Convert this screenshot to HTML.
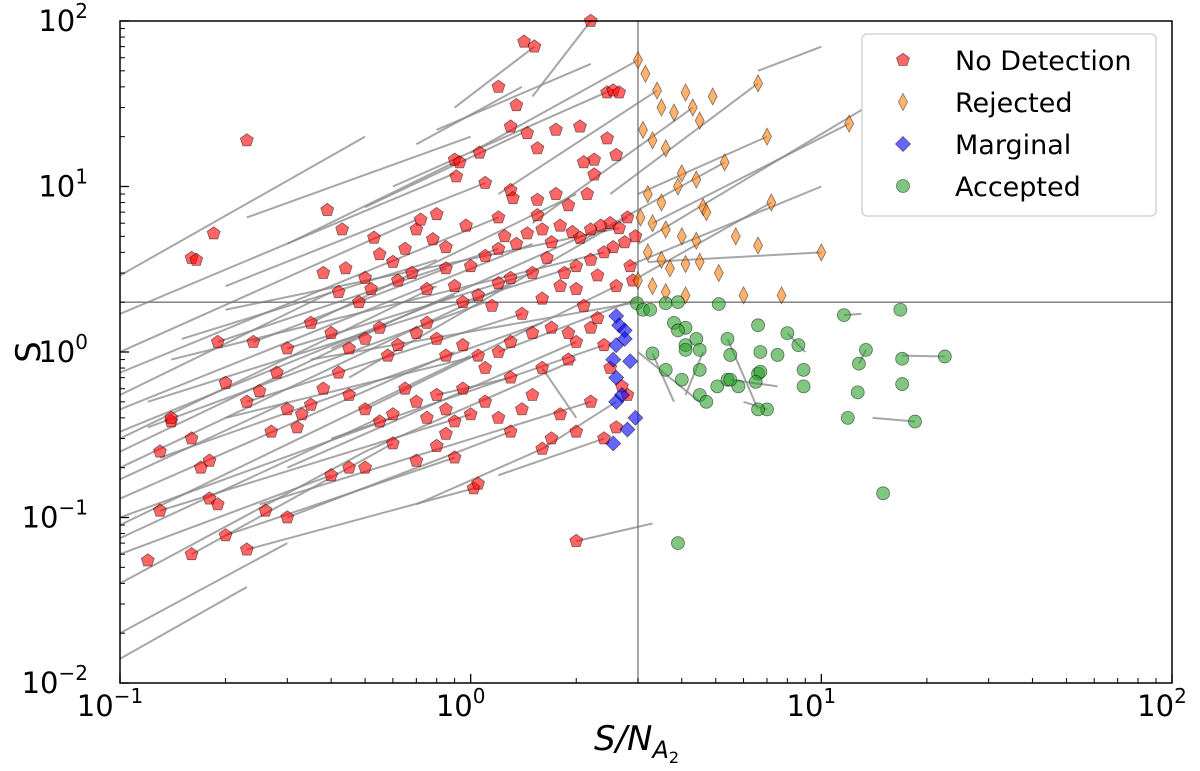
<!DOCTYPE html>
<html><head><meta charset="utf-8">
<style>
html,body{margin:0;padding:0;background:#fff;}
svg{display:block;font-family:"DejaVu Sans","Liberation Sans",sans-serif;}
</style></head>
<body>
<svg id="chart" width="1200" height="771" viewBox="0 0 1200 771">
  <g id="lines"></g>
  <g id="refs"></g>
  <g id="marks"></g>
  <g id="axes"></g>
  <g id="legend"></g>
</svg>
<script>
const xTicks=[0.1,1,10,100];
const xTickExp=["−1","0","1","2"];
const yTicks=[0.01,0.1,1,10,100];
const yTickExp=["−2","−1","0","1","2"];
const thresholdX=3;
const thresholdY=2;

const noDetection=[[0.23,19],[0.185,5.2],[0.16,3.7],[0.165,3.6],[0.39,7.2],[0.43,5.5],[0.53,4.9],[1.2,40],[1.42,75],[1.52,70],[2.2,100],[2.45,37],[2.55,38],[2.65,37],[1.35,31],[1.3,23],[1.75,22],[2.05,23],[1.45,21],[1.55,17],[0.9,14.5],[0.93,14],[1.06,16],[0.91,11.5],[1.1,10.5],[1.3,9.5],[1.32,8.5],[2.1,14],[2.25,14.5],[2.6,15.5],[2.45,19.5],[2.25,11.8],[2.15,9],[1.9,7.7],[1.75,9],[1.55,8.3],[1.55,6.7],[1.2,6.5],[1.25,5.0],[0.97,5.8],[0.85,4.3],[0.78,4.8],[0.72,6.3],[0.8,6.8],[0.7,5.5],[0.65,4.2],[0.6,3.5],[0.55,3.9],[0.5,2.8],[0.52,2.4],[0.48,2.0],[0.42,2.3],[0.38,3.0],[0.44,3.2],[0.62,2.7],[0.68,3.0],[0.75,2.4],[0.85,3.2],[0.9,2.5],[1.0,3.3],[1.1,3.8],[1.2,4.2],[1.35,4.5],[1.45,5.2],[1.6,5.5],[1.7,4.6],[1.8,5.8],[1.95,5.3],[2.05,4.9],[2.2,5.5],[2.35,5.8],[2.5,6.0],[2.65,5.6],[2.8,6.5],[2.95,5.0],[2.75,4.6],[2.55,4.3],[2.4,4.0],[2.2,3.6],[2.0,3.3],[1.85,3.0],[1.65,3.7],[1.5,3.0],[1.3,2.8],[1.2,2.6],[1.05,2.2],[0.95,2.0],[1.15,1.9],[1.4,1.7],[1.6,2.1],[1.8,2.5],[2.0,2.4],[2.1,1.9],[2.3,1.6],[2.6,2.5],[2.85,3.3],[2.3,2.9],[2.9,2.7],[1.7,1.4],[1.9,1.3],[2.0,1.15],[2.2,1.4],[2.4,1.1],[1.5,1.3],[1.3,1.15],[1.2,1.0],[1.05,0.95],[0.95,1.1],[0.85,0.95],[0.8,1.2],[0.75,1.5],[0.7,1.3],[0.62,1.1],[0.58,0.95],[0.55,1.4],[0.5,1.2],[0.45,1.05],[0.4,1.3],[0.35,1.5],[0.3,1.05],[0.28,0.75],[0.25,0.58],[0.23,0.5],[0.2,0.65],[0.19,1.15],[0.24,1.15],[0.3,0.45],[0.32,0.35],[0.35,0.48],[0.38,0.6],[0.42,0.75],[0.45,0.55],[0.5,0.45],[0.55,0.38],[0.6,0.42],[0.65,0.6],[0.7,0.5],[0.75,0.4],[0.8,0.55],[0.85,0.45],[0.9,0.38],[0.95,0.6],[1.0,0.42],[1.1,0.5],[1.2,0.4],[1.3,0.33],[1.4,0.45],[1.5,0.55],[1.6,0.26],[1.7,0.3],[1.8,0.42],[2.0,0.33],[2.2,0.5],[2.4,0.3],[2.6,0.35],[2.8,0.55],[1.1,0.8],[1.3,0.7],[1.6,0.8],[1.9,0.9],[2.5,0.8],[2.7,0.62],[0.14,0.38],[0.13,0.25],[0.16,0.3],[0.18,0.22],[0.17,0.2],[0.18,0.13],[0.19,0.12],[0.13,0.11],[0.16,0.06],[0.12,0.055],[0.2,0.078],[0.23,0.064],[0.26,0.11],[0.3,0.1],[0.4,0.18],[0.45,0.2],[0.5,0.2],[0.6,0.28],[0.7,0.22],[0.8,0.27],[0.9,0.23],[1.02,0.15],[1.05,0.16],[0.85,0.32],[2.0,0.072],[0.14,0.4],[0.27,0.33],[0.33,0.42]];
const rejected=[[3.0,58],[3.15,48],[3.4,38],[3.5,30],[3.8,28],[4.1,37],[4.3,30],[4.5,25],[4.9,35],[6.6,42],[7.0,20],[12,24],[3.1,22],[3.3,19],[3.6,17],[4.0,12],[4.4,11],[3.2,9],[3.5,8],[3.9,10],[4.6,7.5],[4.7,7.0],[5.3,14],[7.2,8],[3.05,6.5],[3.3,6.0],[3.6,5.5],[4.0,5.0],[4.4,4.7],[5.7,5.0],[6.6,4.4],[10,4.0],[3.2,4.0],[3.5,3.6],[3.7,3.2],[4.1,3.4],[4.5,3.5],[5.1,3.0],[3.0,2.7],[3.3,2.5],[3.6,2.3],[4.1,2.2],[6.0,2.2],[7.7,2.2]];
const marginal=[[2.6,1.65],[2.65,1.45],[2.75,1.35],[2.6,1.1],[2.75,1.2],[2.55,0.9],[2.85,0.88],[2.6,0.7],[2.7,0.55],[2.6,0.5],[2.95,0.4],[2.8,0.34],[2.55,0.28]];
const accepted=[[2.98,1.97],[3.1,1.8],[3.25,1.8],[3.6,1.97],[3.9,2.0],[3.8,1.5],[4.1,1.1],[4.4,1.2],[5.1,1.95],[5.4,1.2],[4.1,1.4],[3.9,1.35],[3.3,0.98],[3.6,0.78],[4.0,0.68],[4.1,1.03],[4.5,1.03],[5.5,0.96],[6.6,1.45],[6.7,1.0],[7.5,0.96],[8.0,1.3],[8.6,1.1],[4.5,0.78],[4.5,0.55],[4.7,0.5],[5.05,0.62],[5.4,0.68],[5.8,0.62],[6.6,0.74],[6.7,0.76],[8.9,0.78],[8.9,0.62],[7.0,0.45],[6.6,0.45],[6.5,0.66],[5.5,0.68],[11.6,1.67],[13.4,1.03],[12.8,0.85],[12.7,0.57],[11.9,0.4],[16.8,1.8],[17,0.91],[17,0.64],[18.5,0.38],[22.5,0.94],[15,0.14],[3.9,0.07]];
const segments=[[0.1,1.7,0.9,12],[0.1,2.9,0.5,20],[0.1,0.75,1.2,6.5],[0.1,0.45,1.5,4.5],[0.1,0.3,0.8,2.5],[0.1,0.2,1.3,2.6],[0.1,0.13,0.9,1.0],[0.1,0.09,1.0,0.95],[0.1,0.075,0.55,0.4],[0.1,0.04,0.5,0.25],[0.1,0.02,0.3,0.07],[0.1,0.014,0.23,0.038],[0.1,0.06,0.4,0.18],[0.1,0.25,0.55,1.4],[0.1,0.55,0.4,2.3],[0.1,1.0,0.7,6.3],[0.1,0.17,0.3,0.5],[0.13,0.11,1.0,0.42],[0.16,0.06,0.6,0.28],[0.2,0.078,0.9,0.23],[0.23,0.064,1.02,0.15],[0.3,0.1,1.3,0.33],[0.25,0.12,2.2,0.5],[0.3,0.2,2.0,1.15],[0.4,0.3,2.4,1.1],[0.5,0.45,2.6,2.5],[0.45,0.7,2.8,6.5],[0.4,1.05,2.3,5.5],[0.35,1.5,2.0,9],[0.3,1.05,1.5,3.0],[0.23,0.5,1.4,1.7],[0.19,1.15,1.2,4.2],[0.24,1.15,0.85,3.2],[0.2,2.5,1.1,10.5],[0.23,6.5,1.0,20],[0.3,4.5,0.9,14],[0.5,7.5,1.4,21],[0.6,10,2.5,38],[0.7,18,1.4,40],[0.9,30,1.52,70],[0.8,22,2.2,55],[1.5,35,2.2,100],[1.0,16,3.0,58],[1.2,9,3.4,38],[1.5,6,4.3,30],[2.0,4.5,5.3,14],[2.5,9,6.6,42],[3.0,9,7.0,20],[3.3,6,12,24],[2.8,3.3,10,10],[2.9,2.7,7.2,8],[3.2,3.5,10,4.0],[3.0,4.5,20,50],[6.6,50,10,70],[11.6,1.67,13,1.7],[14,0.4,18.5,0.38],[17,0.95,22.5,0.94],[12.8,0.85,13.4,1.03],[9,1.0,8.0,1.3],[6,0.5,7,0.45],[5.5,0.68,7.5,0.62],[2.0,0.072,3.3,0.092],[0.8,0.55,1.3,0.7],[1.6,0.26,2.6,0.5],[1.2,0.18,2.4,0.3],[0.7,0.12,1.6,0.26],[0.1,0.1,0.6,0.4],[0.12,0.35,1.1,2.0],[0.12,0.5,2.0,3.3],[0.14,0.9,2.4,4.0],[0.2,1.8,2.65,5.6],[0.15,1.2,0.8,3.6],[0.1,0.33,0.9,2.2],[0.2,0.4,1.05,0.95],[0.13,0.23,1.6,1.5],[0.35,0.9,3.0,2.0],[0.5,0.25,2.0,0.9],[1.2,1.0,3.0,2.1],[3.0,1.0,4.5,0.5],[4.1,0.55,4.6,1.0],[5.4,1.2,6.6,0.45],[3.3,0.98,3.8,0.5],[1.6,0.8,2.0,0.4]];

const NS="http://www.w3.org/2000/svg";
const L=120,R=1172,T=21,B=683;
const xs=v=>L+(Math.log10(v)+1)/3*(R-L);
const ys=v=>B-(Math.log10(v)+2)/4*(B-T);
function mk(tag,attrs,parent){const e=document.createElementNS(NS,tag);for(const k in attrs)e.setAttribute(k,attrs[k]);parent.appendChild(e);return e;}

const gl=document.getElementById('lines');
segments.forEach(s=>{
  const e=mk('line',{x1:xs(s[0]),y1:ys(s[1]),x2:xs(s[2]),y2:ys(s[3]),stroke:'#888',"stroke-width":2,"stroke-opacity":0.75},gl);
  
  
});
const gr=document.getElementById('refs');
const vl=mk('line',{x1:xs(thresholdX),x2:xs(thresholdX),y1:T,y2:B,stroke:'#777',"stroke-width":1.3},gr);


const hl=mk('line',{x1:L,x2:R,y1:ys(thresholdY),y2:ys(thresholdY),stroke:'#777',"stroke-width":1.3},gr);



function shape(kind,cx,cy,parent){
  let e;
  if(kind==='pent'){const r=6.8,p=[];for(let i=0;i<5;i++){const a=-Math.PI/2+i*2*Math.PI/5;p.push((cx+r*Math.cos(a)).toFixed(1)+','+(cy+r*Math.sin(a)).toFixed(1));}
    e=mk('polygon',{points:p.join(' '),fill:'rgba(255,0,0,0.6)',stroke:'rgba(0,0,0,0.5)',"stroke-width":0.8},parent);}
  else if(kind==='thin'){e=mk('polygon',{points:`${cx},${cy-8.5} ${cx+4.5},${cy} ${cx},${cy+8.5} ${cx-4.5},${cy}`,fill:'rgba(255,127,14,0.6)',stroke:'rgba(0,0,0,0.5)',"stroke-width":0.8},parent);}
  else if(kind==='dia'){e=mk('polygon',{points:`${cx},${cy-7.5} ${cx+7.5},${cy} ${cx},${cy+7.5} ${cx-7.5},${cy}`,fill:'rgba(0,0,255,0.6)',stroke:'rgba(0,0,0,0.5)',"stroke-width":0.8},parent);}
  else {e=mk('circle',{cx:cx,cy:cy,r:6.5,fill:'rgba(44,160,44,0.6)',stroke:'rgba(0,0,0,0.5)',"stroke-width":0.8},parent);}
  return e;
}
const gm=document.getElementById('marks');
noDetection.forEach(p=>{const e=shape('pent',xs(p[0]),ys(p[1]),gm);
  
  });
rejected.forEach(p=>{const e=shape('thin',xs(p[0]),ys(p[1]),gm);
  
  });
marginal.forEach(p=>{const e=shape('dia',xs(p[0]),ys(p[1]),gm);
  
  });
accepted.forEach(p=>{const e=shape('circ',xs(p[0]),ys(p[1]),gm);
  
  });

const ga=document.getElementById('axes');
const frame=mk('rect',{x:L,y:T,width:R-L,height:B-T,fill:'none',stroke:'#000',"stroke-width":1.5},ga);


xTicks.forEach((v,i)=>{
  const x=xs(v);
  if(i<xTicks.length-1){for(let m=2;m<10;m++){const xm=xs(v*m);mk('line',{x1:xm,x2:xm,y1:B,y2:B-5,stroke:'#000',"stroke-width":1},ga);}}
  mk('line',{x1:x,x2:x,y1:B,y2:B-9,stroke:'#000',"stroke-width":1.3},ga);
  const t=mk('text',{x:x-10,y:B+33,"font-size":29,"text-anchor":"middle"},ga);
  t.textContent='10';
  
  
  const s=mk('tspan',{dy:-13,"font-size":20},t);s.textContent=xTickExp[i];
});
yTicks.forEach((v,i)=>{
  const y=ys(v);
  if(i<yTicks.length-1){for(let m=2;m<10;m++){const ym=ys(v*m);mk('line',{x1:L,x2:L+5,y1:ym,y2:ym,stroke:'#000',"stroke-width":1},ga);}}
  mk('line',{x1:L,x2:L+9,y1:y,y2:y,stroke:'#000',"stroke-width":1.3},ga);
  const t=mk('text',{x:L-32,y:y+10,"font-size":29,"text-anchor":"end"},ga);
  t.textContent='10';
  
  
  const s=mk('tspan',{dy:-13,"font-size":20},t);s.textContent=yTickExp[i];
});
const yl=mk('text',{x:40,y:352,"font-size":34,"text-anchor":"middle",transform:"rotate(-90 40 352)"},ga);
yl.textContent='S';


const xl=mk('text',{x:594,y:750,"font-size":34,"font-style":"italic"},ga);
xl.textContent='S/N';


const sub=mk('tspan',{dy:8,"font-size":24},xl);sub.textContent='A';
const sub2=mk('tspan',{dy:5,"font-size":16,"font-style":"normal"},xl);sub2.textContent='2';

const lg=document.getElementById('legend');
const box=mk('rect',{x:862,y:34,width:294,height:182,rx:5,fill:'#fff',stroke:'#ccc',"stroke-width":1.3},lg);


const entries=[['pent','No Detection','legend-no-detection'],['thin','Rejected','legend-rejected'],['dia','Marginal','legend-marginal'],['circ','Accepted','legend-accepted']];
entries.forEach((en,i)=>{
  const y=60+i*42;
  shape(en[0],903,y,lg);
  const t=mk('text',{x:955,y:y+10,"font-size":27},lg);
  t.textContent=en[1];
  
  
});
</script>
</body></html>
